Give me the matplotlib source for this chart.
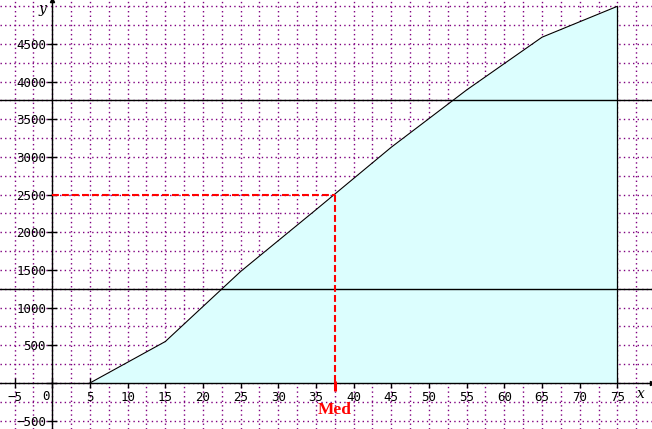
import matplotlib

matplotlib.use("Agg")
import matplotlib.pyplot as plt
from matplotlib.ticker import FixedLocator, FuncFormatter, MultipleLocator

# cumulative frequency polygon (ogive)
CLASS_BOUNDS = [5, 15, 25, 35, 45, 55, 65, 75]
CUMULATIVE = [0, 550, 1480, 2300, 3130, 3890, 4590, 5000]
TOTAL = 5000
QUARTILE_LEVELS = [TOTAL / 4, 3 * TOTAL / 4]
MEDIAN_X = 37.5
MEDIAN_Y = TOTAL / 2
X_TICKS = list(range(-5, 80, 5))
Y_TICKS = list(range(-500, 5000, 500))

GRID_COLOR = "#800080"
FILL_COLOR = "#dcfefe"
RED = "#ff0000"


def fmt(v, pos):
    return "" if abs(v) < 1e-9 else f"{v:g}".replace("-", "\u2212")


fig = plt.figure(figsize=(6.52, 4.29), dpi=100)
ax = fig.add_axes([0, 0, 1, 1])
ax.set_xlim(-6.94, 79.6)
ax.set_ylim(-611, 5084)

# dotted grid every half tick
ax.xaxis.set_major_locator(FixedLocator(X_TICKS))
ax.xaxis.set_minor_locator(MultipleLocator(2.5))
ax.yaxis.set_major_locator(FixedLocator(Y_TICKS))
ax.yaxis.set_minor_locator(MultipleLocator(250))
ax.grid(True, which="both", color=GRID_COLOR, linestyle=(0, (1, 2.3)),
        linewidth=1.0, zorder=0)
ax.set_axisbelow(True)

ax.fill_between(CLASS_BOUNDS, CUMULATIVE, 0, color=FILL_COLOR, linewidth=0,
                zorder=1)
ax.plot(CLASS_BOUNDS, CUMULATIVE, color="black", linewidth=0.8, zorder=3)
ax.vlines(CLASS_BOUNDS[-1], 0, CUMULATIVE[-1], color="black", linewidth=0.9,
          zorder=3)

for level in QUARTILE_LEVELS:
    ax.axhline(level, color="black", linewidth=1.0, zorder=2)

dash = (0, (3.3, 1.5))
ax.plot([0, MEDIAN_X], [MEDIAN_Y, MEDIAN_Y], color=RED, linewidth=1.5,
        linestyle=dash, zorder=4)
ax.plot([MEDIAN_X, MEDIAN_X], [MEDIAN_Y, 0], color=RED, linewidth=1.5,
        linestyle=dash, zorder=4)
ax.plot([MEDIAN_X, MEDIAN_X], [30, -100], color=RED, linewidth=2.2,
        solid_capstyle="butt", zorder=5)
ax.text(MEDIAN_X, -358, "Med", color=RED, fontsize=12.5, fontweight="bold",
        family="Liberation Serif", ha="center", va="center")

# axes through the origin
for side in ("top", "right"):
    ax.spines[side].set_visible(False)
ax.spines["left"].set_position(("data", 0))
ax.spines["bottom"].set_position(("data", 0))
ax.spines["left"].set_linewidth(1.0)
ax.spines["bottom"].set_linewidth(1.0)
ax.tick_params(which="major", direction="inout", length=7, width=1.0,
               labelsize=9, pad=1)
ax.tick_params(which="minor", length=0)
ax.tick_params(axis="x", pad=2)

ax.xaxis.set_major_formatter(FuncFormatter(fmt))
ax.yaxis.set_major_formatter(FuncFormatter(fmt))
for label in ax.get_xticklabels() + ax.get_yticklabels():
    label.set_family("DejaVu Sans Mono")
ax.annotate("0", xy=(0, 0), xytext=(-2, -5), textcoords="offset points",
            ha="right", va="top", fontsize=9, family="DejaVu Sans Mono")

ax.plot(1, 0, marker=">", color="black", markersize=3,
        transform=ax.get_yaxis_transform(), clip_on=False, zorder=6)
ax.plot(0, 1, marker="^", color="black", markersize=3,
        transform=ax.get_xaxis_transform(), clip_on=False, zorder=6)
ax.text(78.1, -150, "x", fontsize=10, style="italic", family="DejaVu Serif",
        ha="center", va="center")
ax.text(-1.3, 4960, "y", fontsize=10, style="italic", family="DejaVu Serif",
        ha="center", va="center")

fig.savefig("out.png", dpi=100, facecolor="white")
